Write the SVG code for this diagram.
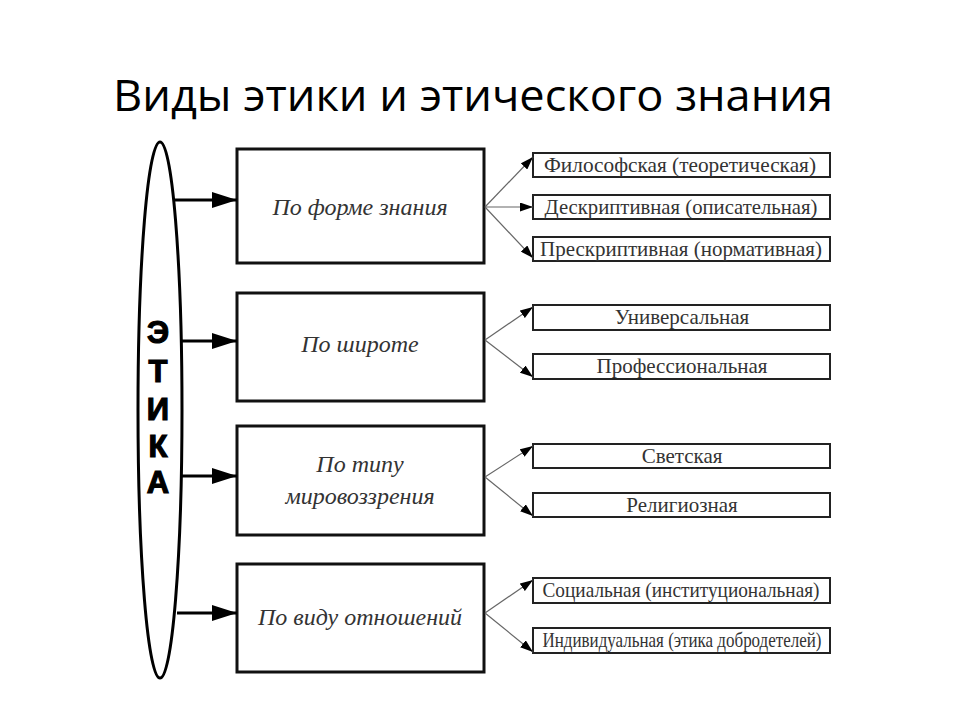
<svg xmlns="http://www.w3.org/2000/svg" width="960" height="720" viewBox="0 0 960 720">
<style>
.title{font-family:"Open Sans","Liberation Sans",sans-serif;font-size:44px;fill:#000}
.etika{font-family:"Liberation Sans",Arial,sans-serif;font-weight:bold;font-size:31px;fill:#000;stroke:#000;stroke-width:1.2;text-anchor:middle}
.cat rect{fill:#fff;stroke:#111;stroke-width:3}
.cat text{font-family:"Liberation Serif","Times New Roman",serif;font-style:italic;font-size:24px;fill:#333;text-anchor:middle}
.leaf rect{fill:#fff;stroke:#222;stroke-width:2}
.leaf text{font-family:"Liberation Serif","Times New Roman",serif;font-size:21px;fill:#333;text-anchor:middle}
.big{stroke:#000;stroke-width:3;fill:none}
.thin{stroke:#666;stroke-width:1.2;fill:none}
</style>
<defs>
<marker id="bigArrow" markerUnits="userSpaceOnUse" viewBox="0 0 25 16" markerWidth="25" markerHeight="16" refX="25" refY="8" orient="auto">
<path d="M0,0 L25,8 L0,16 z" fill="#000"/>
</marker>
<marker id="smallArrow" markerUnits="userSpaceOnUse" viewBox="0 0 13 9" markerWidth="13" markerHeight="9" refX="13" refY="4.5" orient="auto">
<path d="M0,0 L13,4.5 L0,9 z" fill="#000"/>
</marker>
</defs>
<rect width="960" height="720" fill="#fff"/>
<text class="title" x="113" y="111" textLength="720" lengthAdjust="spacingAndGlyphs">Виды этики и этического знания</text>

<g id="etika">
<ellipse cx="160" cy="410" rx="22" ry="268" fill="#fff" stroke="#000" stroke-width="3"/>
<text class="etika" x="158" y="343">Э</text>
<text class="etika" x="158" y="382">Т</text>
<text class="etika" x="158" y="420">И</text>
<text class="etika" x="158" y="457">К</text>
<text class="etika" x="158" y="493">А</text>
</g>

<g id="cat1" class="cat"><rect x="237" y="149" width="247" height="114"/><text x="360" y="215">По форме знания</text></g>
<g id="cat2" class="cat"><rect x="237" y="293" width="247" height="108"/><text x="360" y="352">По широте</text></g>
<g id="cat3" class="cat"><rect x="237" y="426" width="247" height="109"/><text x="360" y="472">По типу</text><text x="360" y="504">мировоззрения</text></g>
<g id="cat4" class="cat"><rect x="237" y="564" width="247" height="108"/><text x="360" y="625">По виду отношений</text></g>

<g id="leafA1" class="leaf"><rect x="533" y="153" width="297" height="24"/><text x="680" y="172" textLength="272" lengthAdjust="spacingAndGlyphs">Философская (теоретическая)</text></g>
<g id="leafA2" class="leaf"><rect x="533" y="195" width="297" height="24"/><text x="681" y="214" textLength="273" lengthAdjust="spacingAndGlyphs">Дескриптивная (описательная)</text></g>
<g id="leafA3" class="leaf"><rect x="533" y="237" width="297" height="24"/><text x="681" y="256" textLength="282" lengthAdjust="spacingAndGlyphs">Прескриптивная (нормативная)</text></g>
<g id="leafB1" class="leaf"><rect x="533" y="305" width="297" height="25"/><text x="682" y="324">Универсальная</text></g>
<g id="leafB2" class="leaf"><rect x="533" y="354" width="297" height="25"/><text x="682" y="373">Профессиональная</text></g>
<g id="leafC1" class="leaf"><rect x="533" y="444" width="297" height="24"/><text x="682" y="463">Светская</text></g>
<g id="leafC2" class="leaf"><rect x="533" y="493" width="297" height="24"/><text x="682" y="512">Религиозная</text></g>
<g id="leafD1" class="leaf"><rect x="533" y="578" width="297" height="25"/><text x="681" y="597" textLength="277" lengthAdjust="spacingAndGlyphs">Социальная (институциональная)</text></g>
<g id="leafD2" class="leaf"><rect x="533" y="628" width="297" height="25"/><text x="682" y="647" textLength="279" lengthAdjust="spacingAndGlyphs">Индивидуальная (этика добродетелей)</text></g>

<g id="connectors">
<line class="big" x1="174" y1="200" x2="237" y2="200" marker-end="url(#bigArrow)"/>
<line class="big" x1="181" y1="341" x2="237" y2="341" marker-end="url(#bigArrow)"/>
<line class="big" x1="181" y1="476" x2="237" y2="476" marker-end="url(#bigArrow)"/>
<line class="big" x1="177" y1="613" x2="237" y2="613" marker-end="url(#bigArrow)"/>

<line class="thin" x1="485" y1="207" x2="533" y2="157" marker-end="url(#smallArrow)"/>
<line class="thin" x1="485" y1="207" x2="533" y2="207" stroke="#000" marker-end="url(#smallArrow)"/>
<line class="thin" x1="485" y1="207" x2="533" y2="258" marker-end="url(#smallArrow)"/>

<line class="thin" x1="485" y1="340" x2="533" y2="307" marker-end="url(#smallArrow)"/>
<line class="thin" x1="485" y1="340" x2="533" y2="377" marker-end="url(#smallArrow)"/>

<line class="thin" x1="485" y1="477" x2="533" y2="446" marker-end="url(#smallArrow)"/>
<line class="thin" x1="485" y1="477" x2="533" y2="516" marker-end="url(#smallArrow)"/>

<line class="thin" x1="485" y1="613" x2="533" y2="580" marker-end="url(#smallArrow)"/>
<line class="thin" x1="485" y1="613" x2="533" y2="652" marker-end="url(#smallArrow)"/>
</g>
</svg>
